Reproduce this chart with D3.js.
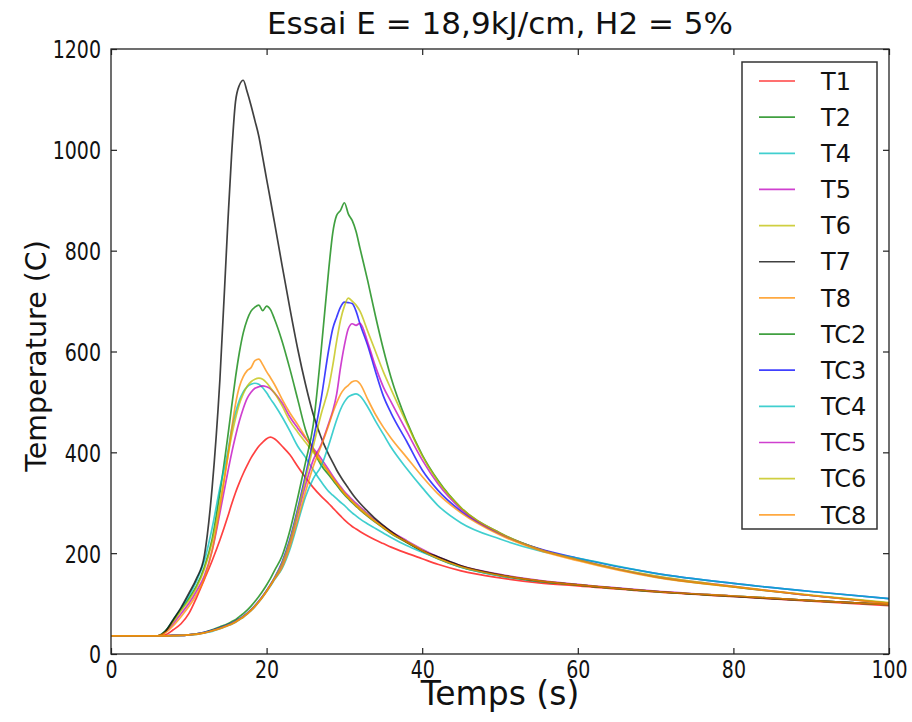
<!DOCTYPE html>
<html><head><meta charset="utf-8">
<script src="https://cdn.jsdelivr.net/npm/d3@7"></script>
<style>body{margin:0;background:#fff} svg{display:block} text{font-family:"DejaVu Sans",sans-serif;fill:#111}</style>
</head><body><svg id="c" width="912" height="722"></svg>
<script>
const times = [0,6,7,8,9,10,11,12,13,14, 15,15.5,16,16.5,17,17.5,18,18.5,19,19.5,20,20.5,21, 22,23,24,25,26,27,28, 28.5,29,29.5,30,30.5,31,31.5,32, 33,34,35,36,38,40,42,45,50,55,60,70,80,90,100];
const xTicks = [0,20,40,60,80,100];
const yTicks = [0,200,400,600,800,1000,1200];
const seriesNames = ["T1","T2","T4","T5","T6","T7","T8","TC2","TC3","TC4","TC5","TC6","TC8"];
const seriesColors = ["#ff0000","#008000","#00bfbf","#bf00bf","#bfbf00","#000000","#ff8c00","#008000","#0000ff","#00bfbf","#bf00bf","#bfbf00","#ff8c00"];

const T1 = [36,36,38,48,60,80,112,148,185,226, 272,297,320,340,358,374,389,401,412,420,427,430,427, 412,395,372,350,330,313,298, 290,282,274,266,259,253,248,243, 234,226,219,212,200,189,178,165,151,141,135,123,114,105,96];
const T2 = [36,36,46,66,88,110,135,172,228,320, 430,490,548,598,637,663,680,688,692,681,690,683,665, 620,565,505,445,405,375,355, 345,335,325,316,308,300,293,286, 273,261,250,239,221,204,189,172,155,144,137,124,115,106,98];
const T4 = [36,36,46,68,90,115,145,185,250,330, 400,445,478,503,520,530,535,537,535,528,518,506,495, 470,442,412,390,365,342,322, 315,308,301,295,287,280,274,268, 258,249,240,231,215,202,190,172,155,144,137,124,115,106,98];
const T5 = [36,36,44,60,80,100,125,155,205,280, 360,398,432,462,487,507,519,527,530,532,530,526,518, 498,470,448,428,408,388,365, 353,342,332,322,314,306,299,292, 278,265,254,243,225,208,193,175,158,146,138,125,115,106,98];
const T6 = [36,36,45,64,86,106,132,168,222,300, 390,432,467,496,516,531,540,545,547,545,538,528,518, 492,462,440,420,400,380,360, 349,339,329,319,311,303,296,289, 276,263,252,241,223,206,191,174,157,145,137,124,115,106,98];
const T7 = [36,36,45,68,92,120,150,195,330,545, 850,990,1095,1128,1138,1115,1088,1058,1027,985,942,900,857, 770,685,605,535,475,430,395, 380,365,352,340,329,318,308,299, 283,268,255,243,222,205,193,175,157,145,137,124,114,106,98];
const T8 = [36,36,42,56,74,94,118,150,205,290, 390,445,495,530,550,562,568,582,585,574,560,548,535, 505,478,455,430,405,382,360, 349,338,328,318,310,302,294,287, 274,262,251,240,222,205,190,173,156,145,137,124,115,106,98];
const TC2 = [36,36,36,37,37,38,40,43,48,54, 60,64,68,74,80,87,95,104,114,125,137,150,165, 195,245,310,380,455,600,765, 835,870,880,895,873,860,838,805, 740,670,605,548,462,395,345,290,240,208,187,153,133,116,101];
const TC3 = [36,36,36,37,37,38,40,43,47,52, 58,61,65,70,75,81,88,96,105,115,126,138,151, 183,228,288,355,425,505,605, 645,668,688,698,697,695,680,655, 612,560,512,478,422,365,325,283,238,209,190,160,140,124,110];
const TC4 = [36,36,36,36,37,38,39,42,45,50, 56,59,63,68,73,79,86,94,103,113,124,135,147, 170,208,260,312,348,372,415, 440,464,485,500,510,514,516,512, 490,462,436,410,368,330,295,260,228,205,190,160,140,124,110];
const TC5 = [36,36,36,37,37,38,40,42,46,51, 57,60,64,69,74,80,87,95,104,114,125,137,149, 177,220,277,335,385,415,458, 482,515,568,612,645,655,652,656, 618,570,530,500,442,385,338,287,239,208,187,154,134,116,101];
const TC6 = [36,36,36,37,37,38,40,42,46,51, 57,60,64,69,74,80,87,95,104,114,125,137,150, 180,224,283,347,412,475,530, 572,620,662,690,706,700,692,680, 640,600,560,525,458,393,343,290,240,208,187,155,134,117,102];
const TC8 = [36,36,36,36,37,38,39,42,46,50, 56,59,63,68,73,79,86,94,103,113,124,136,148, 172,213,266,322,372,412,455, 478,498,515,526,533,540,542,536, 505,475,450,428,390,352,318,280,236,206,185,152,133,116,100];
const seriesValues = [T1,T2,T4,T5,T6,T7,T8,TC2,TC3,TC4,TC5,TC6,TC8];

const svg = d3.select("#c");
const L = 111, R = 889, Tp = 49, B = 654;
const x = d3.scaleLinear().domain([0,100]).range([L,R]);
const y = d3.scaleLinear().domain([0,1200]).range([B,Tp]);

svg.append("defs").append("clipPath").attr("id","clip")
  .append("rect").attr("x",L).attr("y",Tp).attr("width",R-L).attr("height",B-Tp);

const line = d3.line().x(d=>x(d[0])).y(d=>y(d[1])).curve(d3.curveMonotoneX);
const g = svg.append("g").attr("clip-path","url(#clip)");
seriesValues.forEach((vals,i)=>{
  g.append("path").datum(times.map((t,j)=>[t,vals[j]]))
    .attr("d",line).attr("fill","none").attr("stroke",seriesColors[i])
    .attr("stroke-opacity",0.75).attr("stroke-width",1.7).attr("stroke-linejoin","round");
});

// axes
const tickLen = 6, sy = 1.3, tfs = 19;
const ax = svg.append("g").attr("transform",`translate(0,${B})`)
  .call(d3.axisBottom(x).tickValues(xTicks).tickSize(-tickLen).tickSizeOuter(0).tickPadding(6).tickFormat(d3.format("d")));
const axT = svg.append("g").attr("transform",`translate(0,${Tp})`)
  .call(d3.axisTop(x).tickValues(xTicks).tickSize(-tickLen).tickSizeOuter(0).tickFormat(""));
const ay = svg.append("g").attr("transform",`translate(${L},0)`)
  .call(d3.axisLeft(y).tickValues(yTicks).tickSize(-tickLen).tickSizeOuter(0).tickPadding(10).tickFormat(d3.format("d")));
const ayR = svg.append("g").attr("transform",`translate(${R},0)`)
  .call(d3.axisRight(y).tickValues(yTicks).tickSize(-tickLen).tickSizeOuter(0).tickFormat(""));
[ax,axT,ay,ayR].forEach(a=>{
  a.select(".domain").remove();
  a.selectAll(".tick line").attr("stroke","#222").attr("stroke-width",1.2);
  a.selectAll("text").attr("font-size",tfs).attr("font-family","DejaVu Sans").attr("fill","#222");
});
// vertically stretched tick labels, as in the reference
ax.selectAll(".tick text").attr("y",6/sy).attr("dy","0.73em").attr("transform",`scale(1,${sy})`);
ay.selectAll(".tick text").attr("dy","0.36em").attr("transform",`scale(1,${sy})`);
svg.append("rect").attr("x",L).attr("y",Tp).attr("width",R-L).attr("height",B-Tp)
  .attr("fill","none").attr("stroke","#222").attr("stroke-width",1.3);

// titles
svg.append("text").attr("x",(L+R)/2).attr("y",34).attr("text-anchor","middle").attr("font-size",31)
  .text("Essai E = 18,9kJ/cm, H2 = 5%");
svg.append("text").attr("x",(L+R)/2).attr("y",705).attr("text-anchor","middle").attr("font-size",33)
  .text("Temps (s)");
svg.append("text").attr("transform",`translate(46,356) rotate(-90)`).attr("text-anchor","middle").attr("font-size",28.5)
  .text("Temperature (C)");

// legend
const lg = svg.append("g");
lg.append("rect").attr("x",742).attr("y",62).attr("width",135).attr("height",467)
  .attr("fill","#fff").attr("stroke","#333").attr("stroke-width",1.5);
seriesNames.forEach((n,i)=>{
  const yy = 81 + i*36.15;
  lg.append("line").attr("x1",759).attr("x2",795).attr("y1",yy).attr("y2",yy)
    .attr("stroke",seriesColors[i]).attr("stroke-opacity",0.75).attr("stroke-width",1.7);
  lg.append("text").attr("x",821).attr("y",yy+8.7).attr("font-size",24).text(n);
});
</script></body></html>
